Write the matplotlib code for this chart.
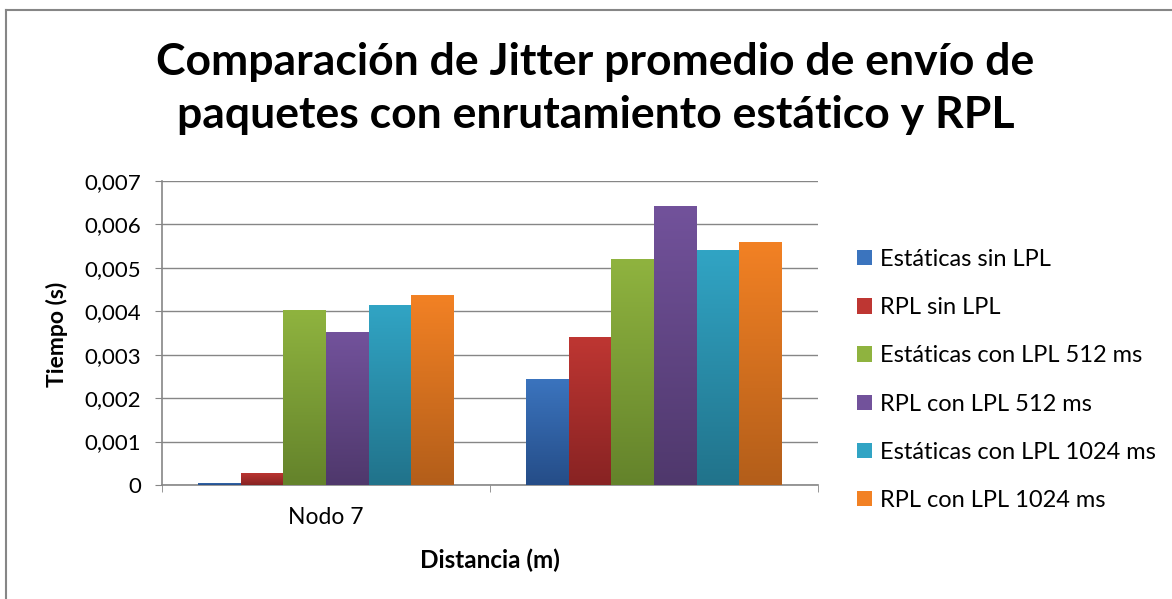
import numpy as np
import matplotlib
matplotlib.use("Agg")
from matplotlib import pyplot as plt
from matplotlib.ticker import FuncFormatter, MultipleLocator
from matplotlib.lines import Line2D
from matplotlib.colors import LinearSegmentedColormap

plt.rcParams['font.family'] = ['Lato', 'DejaVu Sans']

categorias = ["Nodo 7", ""]
series = ["Estáticas sin LPL", "RPL sin LPL", "Estáticas con LPL 512 ms",
          "RPL con LPL 512 ms", "Estáticas con LPL 1024 ms", "RPL con LPL 1024 ms"]
estaticas_sin = [0.00005, 0.00245]
rpl_sin = [0.00028, 0.00340]
estaticas_512 = [0.00402, 0.00520]
rpl_512 = [0.00352, 0.00642]
estaticas_1024 = [0.00414, 0.00541]
rpl_1024 = [0.00437, 0.00559]
valores = [estaticas_sin, rpl_sin, estaticas_512, rpl_512, estaticas_1024, rpl_1024]

# color arriba / color abajo para el degradado
colores = [("#3b74be", "#254d88"), ("#be3632", "#882323"), ("#8fb33f", "#64832b"),
           ("#72529b", "#4f386c"), ("#31a4c4", "#21738b"), ("#f28124", "#b35e1a")]

W, H = 1172, 599
fig = plt.figure(figsize=(W / 100, H / 100), dpi=100)
ax = fig.add_axes([162 / W, 1 - 485 / H, 656 / W, 304 / H])

x = np.arange(len(categorias))
ancho = 0.13
for i, serie in enumerate(valores):
    pos = x - 3 * ancho + ancho / 2 + i * ancho
    barras = ax.bar(pos, serie, width=ancho, color=colores[i][0], label=series[i], zorder=2)
    cmap = LinearSegmentedColormap.from_list("g%d" % i, [colores[i][1], colores[i][0]])
    for b in barras:
        grad = np.linspace(0, 1, 100).reshape(-1, 1)
        im = ax.imshow(grad, cmap=cmap, aspect="auto", origin="lower",
                       extent=(b.get_x(), b.get_x() + b.get_width(), 0, b.get_height()),
                       zorder=3)
        im.set_clip_path(b)

ax.set_xlim(-0.5, 1.5)
ax.set_ylim(0, 0.007)
ax.yaxis.set_major_locator(MultipleLocator(0.001))
ax.yaxis.set_major_formatter(FuncFormatter(lambda v, p: "0" if v == 0 else ("%.3f" % v).replace(".", ",")))
ax.set_xticks(x)
ax.set_xticklabels(categorias)
ax.set_xticks([-0.5, 0.5, 1.5], minor=True)
ax.tick_params(axis="x", which="major", length=0, labelsize=16.5, pad=16)
ax.tick_params(axis="x", which="minor", length=5, color="#868686")
ax.tick_params(axis="y", length=5, color="#868686", labelsize=16, pad=10)
ax.grid(axis="y", color="#868686", linewidth=1, zorder=0)
for lado in ["top", "right"]:
    ax.spines[lado].set_visible(False)
for lado in ["left", "bottom"]:
    ax.spines[lado].set_color("#868686")
    ax.spines[lado].set_linewidth(1.2)

ax.set_ylabel("Tiempo (s)", fontsize=16.5, fontweight="bold", va="center")
ax.yaxis.set_label_coords((57 - 162) / 656, 0.497)
ax.set_xlabel("Distancia (m)", fontsize=17.5, fontweight="bold", va="center")
ax.xaxis.set_label_coords(0.5, -(560 - 485) / 304)

fig.text(595 / W, 1 - 75 / H, "Comparación de Jitter promedio de envío de",
         ha="center", va="baseline", fontsize=32, fontweight="bold")
fig.text(596 / W, 1 - 128 / H, "paquetes con enrutamiento estático y RPL",
         ha="center", va="baseline", fontsize=32, fontweight="bold")

leg = ax.legend(loc="center left", bbox_to_anchor=((857 - 162) / 656, (485 - 380) / 304),
                frameon=False, fontsize=17, labelspacing=1.15, borderaxespad=0, borderpad=0,
                handlelength=0.62, handleheight=0.62, handletextpad=0.35)

# borde del area del grafico (solo visible arriba e izquierda)
fig.add_artist(Line2D([6 / W, 6 / W], [0, 1 - 10 / H], transform=fig.transFigure,
                      color="#868686", linewidth=1.5))
fig.add_artist(Line2D([6 / W, 1], [1 - 10 / H, 1 - 10 / H], transform=fig.transFigure,
                      color="#868686", linewidth=1.5))

fig.savefig("out.png", dpi=100)
